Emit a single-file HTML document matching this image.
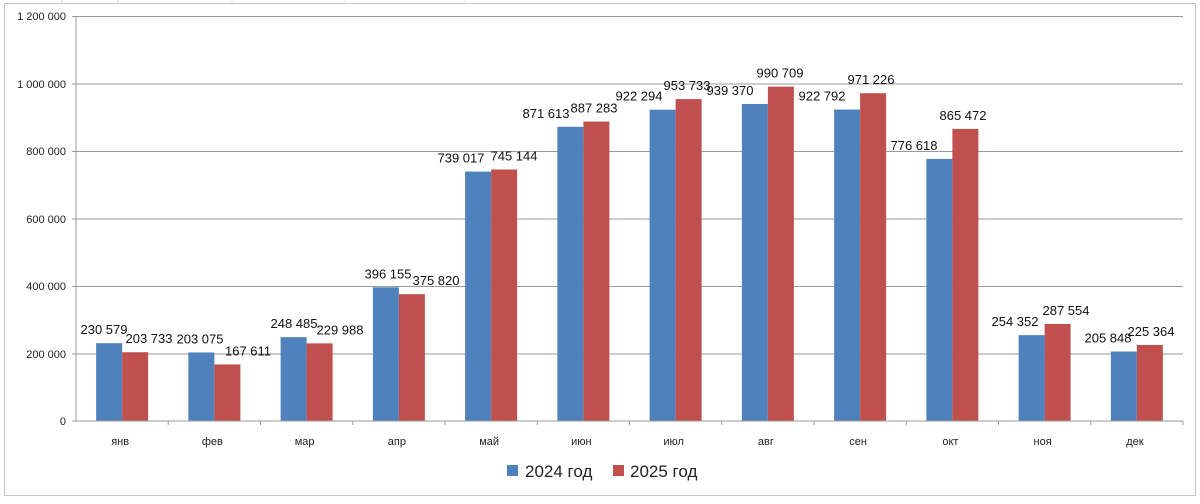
<!DOCTYPE html>
<html><head><meta charset="utf-8"><style>
html,body{margin:0;padding:0;background:#fff}
</style></head><body>
<svg width="1200" height="499" xmlns="http://www.w3.org/2000/svg" font-family="Liberation Sans, sans-serif">
<rect x="0" y="0" width="1200" height="499" fill="#fff"/>
<g stroke="#e3e3e3" stroke-width="1">
<line x1="62" y1="0" x2="62" y2="4"/><line x1="118" y1="0" x2="118" y2="4"/><line x1="232" y1="0" x2="232" y2="4"/><line x1="345" y1="0" x2="345" y2="4"/><line x1="465" y1="0" x2="465" y2="4"/>
</g>
<rect x="4.5" y="3.5" width="1191" height="492" fill="#fff" stroke="#c8c8c8"/>
<g stroke="#9a9a9a" stroke-width="1">
<line x1="72" y1="16.5" x2="1183" y2="16.5"/>
<line x1="72" y1="84" x2="1183" y2="84"/>
<line x1="72" y1="151.5" x2="1183" y2="151.5"/>
<line x1="72" y1="219" x2="1183" y2="219"/>
<line x1="72" y1="286.5" x2="1183" y2="286.5"/>
<line x1="72" y1="354" x2="1183" y2="354"/>
<line x1="76" y1="16" x2="76" y2="421"/>
</g>
<g font-size="11" fill="#222" text-anchor="end">
<text x="66" y="20">1 200 000</text><text x="66" y="88">1 000 000</text><text x="66" y="155">800 000</text>
<text x="66" y="223">600 000</text><text x="66" y="290">400 000</text><text x="66" y="358">200 000</text><text x="66" y="425">0</text>
</g>
<g id="bars"></g>
<line x1="72" y1="421" x2="1183" y2="421" stroke="#9a9a9a"/>
<g id="ticks" stroke="#9a9a9a"></g>
<g id="months" font-size="11" fill="#222" text-anchor="middle"></g>
<rect x="507" y="465" width="11" height="11" fill="#4f81bd"/>
<text x="525" y="477" font-size="17" fill="#222">2024 год</text>
<rect x="613" y="465" width="11" height="11" fill="#c0504d"/>
<text x="630" y="477" font-size="17" fill="#222">2025 год</text>
<script>
var a=[230579,203075,248485,396155,739017,871613,922294,939370,922792,776618,254352,205848];
var b=[203733,167611,229988,375820,745144,887283,953733,990709,971226,865472,287554,225364];
var la=[104,200,294,388,461,546,639,730,822,914,1015,1108];
var lb=[149,248,340,436,514,594,687,780,871,963,1066,1151];
var m=["янв","фев","мар","апр","май","июн","июл","авг","сен","окт","ноя","дек"];
var ns="http://www.w3.org/2000/svg";
function el(p,t,at,tx){var e=document.createElementNS(ns,t);for(var k in at)e.setAttribute(k,at[k]);if(tx)e.textContent=tx;document.getElementById(p).appendChild(e);}
function f(v){var s=String(v);return s.slice(0,s.length-3)+" "+s.slice(-3);}
var y0=421,k=0.0003375,sp=(1183-76)/12;
for(var i=0;i<12;i++){
 var c=76+sp*i+sp/2;
 var ha=a[i]*k,hb=b[i]*k;
 el("bars","rect",{x:c-26,y:y0-ha,width:26,height:ha,fill:"#4f81bd"});
 el("bars","rect",{x:c,y:y0-hb,width:26,height:hb,fill:"#c0504d"});
 el("bars","text",{x:la[i],y:y0-ha-9,"font-size":"13","fill":"#111","text-anchor":"middle"},f(a[i]));
 el("bars","text",{x:lb[i],y:y0-hb-9,"font-size":"13","fill":"#111","text-anchor":"middle"},f(b[i]));
 el("ticks","line",{x1:76+sp*(i+1),y1:421,x2:76+sp*(i+1),y2:425});
 el("months","text",{x:c-2,y:445},m[i]);
}
</script>
</svg>
</body></html>
